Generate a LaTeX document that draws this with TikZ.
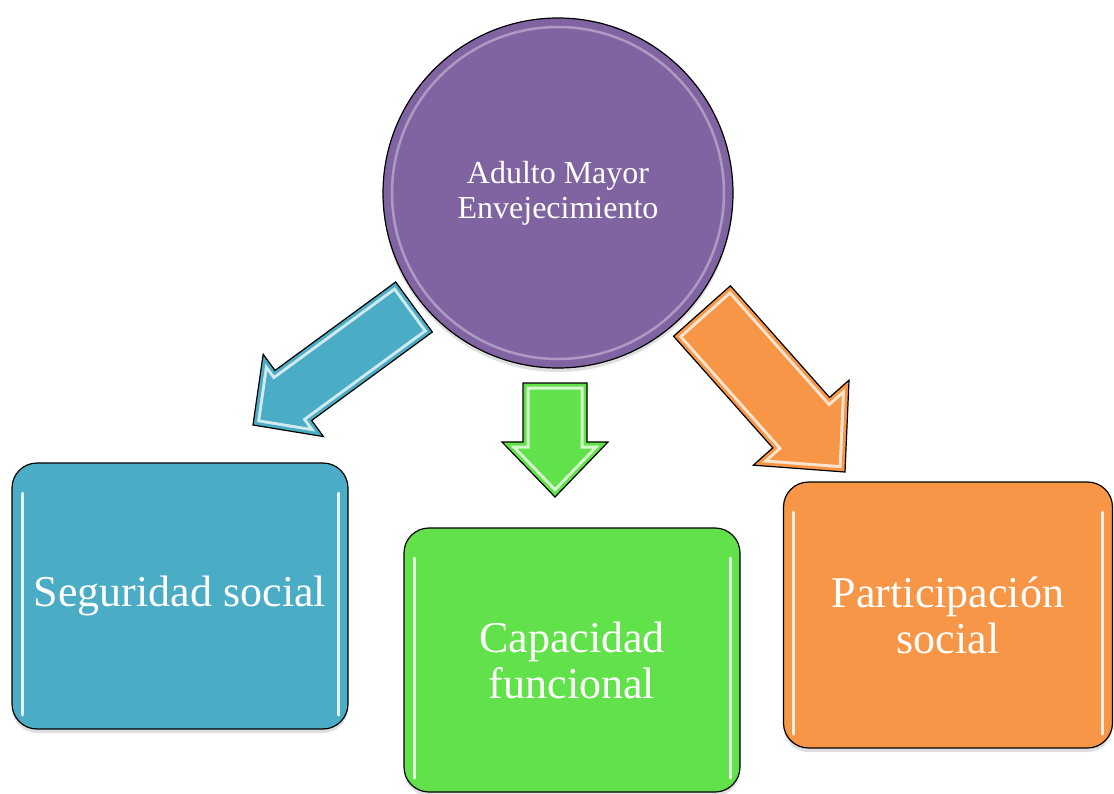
\documentclass[tikz,border=0pt]{standalone}
\usepackage{fontspec}
\setmainfont{Liberation Serif}
\usepackage{xcolor}
\usetikzlibrary{calc, shadows}

\definecolor{morado}{HTML}{8064A2}
\definecolor{azul}{HTML}{4BACC6}
\definecolor{verde}{HTML}{62E24A}
\definecolor{naranja}{HTML}{F79646}

\tikzset{
  caja/.style={draw=black, line width=1.2pt, rounded corners=25pt, inner sep=0pt,
    minimum width=336pt, minimum height=266pt, text=white, align=center,
    font=\fontsize{44}{46}\selectfont,
    drop shadow={opacity=.25, shadow xshift=0pt, shadow yshift=-4pt},
    path picture={
      \draw[white, line width=3pt, opacity=.85, line cap=round]
        ([xshift=10pt, yshift=-30pt]path picture bounding box.north west) -- ([xshift=10pt, yshift=14pt]path picture bounding box.south west)
        ([xshift=-10pt, yshift=-30pt]path picture bounding box.north east) -- ([xshift=-10pt, yshift=14pt]path picture bounding box.south east);
    }},
  brillo/.style={white, opacity=.75, line width=13pt},
  borde/.style={draw=black, line width=1.2pt}
}

% flecha: cola, punta, color, ancho, cabeza, largo de cabeza
\newcommand{\flecha}[6]{%
  \coordinate (hb) at ($(#2)!#6!(#1)$);
  \coordinate (p1) at ($(#1)!#4!90:(#2)$);
  \coordinate (p2) at ($(hb)!#4!-90:(#1)$);
  \coordinate (p3) at ($(hb)!#5!-90:(#1)$);
  \coordinate (p4) at ($(hb)!#5!90:(#1)$);
  \coordinate (p5) at ($(hb)!#4!90:(#1)$);
  \coordinate (p6) at ($(#1)!#4!-90:(#2)$);
  \begin{scope}
    \clip (p1) -- (p2) -- (p3) -- (#2) -- (p4) -- (p5) -- (p6) -- cycle;
    \fill[fill=#3] (p1) -- (p2) -- (p3) -- (#2) -- (p4) -- (p5) -- (p6) -- cycle;
    \draw[brillo] (p1) -- (p2) -- (p3) -- (#2) -- (p4) -- (p5) -- (p6) -- cycle;
    \draw[draw=#3, line width=7pt] (p1) -- (p2) -- (p3) -- (#2) -- (p4) -- (p5) -- (p6) -- cycle;
  \end{scope}
  \draw[borde] (p1) -- (p2) -- (p3) -- (#2) -- (p4) -- (p5) -- (p6) -- cycle;
}

\begin{document}
\begin{tikzpicture}[x=1pt, y=-1pt]
        \useasboundingbox (0,0) rectangle (1114,793);
        % Концы стрелок
        \coordinate (azulcola) at (414,307);
        \coordinate (azulpunta) at (253,425);
        \coordinate (verdecola) at (555,383);
        \coordinate (verdepunta) at (555,497);
        \coordinate (naranjacola) at (702,311);
        \coordinate (naranjapunta) at (845,472);
        % Стрелки
        \foreach \col/\ancho/\cabeza/\largo in {azul/31/51/50, verde/32/53/55, naranja/38/64/66} {
          \flecha{\col cola}{\col punta}{\col}{\ancho pt}{\cabeza pt}{\largo pt}
        }
        % Круг
        \node[circle, draw=black, line width=1.2pt, fill=morado, minimum size=350pt, inner sep=0pt,
          text=white, align=center, font=\fontsize{32}{35}\selectfont,
          drop shadow={opacity=.25, shadow xshift=0pt, shadow yshift=-4pt},
          path picture={\draw[white, opacity=.35, line width=2.5pt] (path picture bounding box.center) circle (166pt);}]
          (adulto) at (558,193) {Adulto Mayor\\Envejecimiento};
        % Блоки
        \node[caja, fill=azul] (seguridad) at (180,596) {Seguridad social};
        \node[caja, fill=verde, minimum height=264pt] (capacidad) at (572,660) {Capacidad\\funcional};
        \node[caja, fill=naranja, minimum width=329pt] (participacion) at (948,615) {Participación\\social};
    \end{tikzpicture}
\end{document}
